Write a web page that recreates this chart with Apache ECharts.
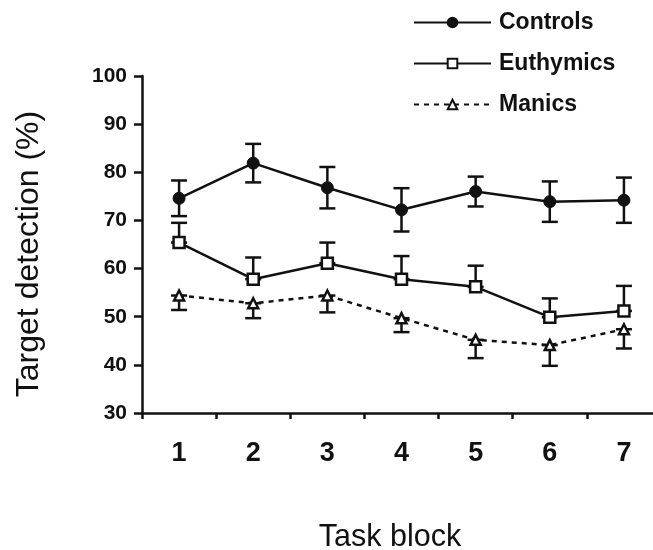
<!DOCTYPE html>
<html>
<head>
<meta charset="utf-8">
<script src="https://cdn.jsdelivr.net/npm/echarts@6/dist/echarts.min.js"></script>
<style>
html,body{margin:0;padding:0;background:#fff;}
#chart{width:653px;height:550px;}
</style>
</head>
<body>
<div id="chart"></div>
<script>
const categories = ['1', '2', '3', '4', '5', '6', '7'];
const controls = [74.6, 81.9, 76.8, 72.2, 76.0, 73.9, 74.2];
const controlsErr = [3.7, 4.0, 4.3, 4.5, 3.1, 4.2, 4.7];
const euthymics = [65.4, 57.8, 61.1, 57.8, 56.2, 49.9, 51.2];
const euthymicsErrUp = [4.1, 4.5, 4.3, 4.8, 4.4, 3.9, 5.2];
const manics = [54.4, 52.8, 54.4, 49.7, 45.2, 44.1, 47.4];
const manicsErrDown = [3.0, 3.1, 3.5, 2.9, 3.8, 4.3, 4.0];
const yTicks = [30, 40, 50, 60, 70, 80, 90, 100];

const chart = echarts.init(document.getElementById('chart'));

function errData(means, lowErr, highErr) {
  return means.map((m, i) => [i, m - lowErr[i], m + highErr[i]]);
}
const zeros = categories.map(() => 0);

function errorBarSeries(name, data) {
  return {
    type: 'custom',
    name: name,
    z: 1,
    silent: true,
    data: data,
    encode: { x: 0, y: [1, 2] },
    renderItem: function (params, api) {
      const x = api.value(0);
      const lo = api.coord([x, api.value(1)]);
      const hi = api.coord([x, api.value(2)]);
      const hw = 8;
      const st = { stroke: '#111', lineWidth: 2.5, fill: null };
      return {
        type: 'group',
        children: [
          { type: 'line', shape: { x1: lo[0], y1: lo[1], x2: hi[0], y2: hi[1] }, style: st },
          { type: 'line', shape: { x1: lo[0] - hw, y1: lo[1], x2: lo[0] + hw, y2: lo[1] }, style: st },
          { type: 'line', shape: { x1: hi[0] - hw, y1: hi[1], x2: hi[0] + hw, y2: hi[1] }, style: st }
        ]
      };
    }
  };
}

const option = {
  animation: false,
  backgroundColor: '#fff',
  textStyle: { fontFamily: 'Liberation Sans' },
  legend: {
    orient: 'vertical',
    left: 408,
    top: 6,
    itemWidth: 77,
    itemHeight: 12,
    itemGap: 18,
    data: ['Controls', 'Euthymics', 'Manics'],
    textStyle: { fontSize: 23, fontWeight: 'bold', color: '#111', fontFamily: 'Liberation Sans', padding: [0, 0, 0, 3] }
  },
  grid: { left: 142, right: -8, top: 76, bottom: 137, containLabel: false, outerBoundsMode: 'none' },
  xAxis: {
    type: 'category',
    data: categories,
    boundaryGap: true,
    name: 'Task block',
    nameLocation: 'middle',
    nameGap: 109,
    nameTextStyle: { fontSize: 30.5, color: '#111', padding: [0, 23, 0, 0] },
    axisLine: { lineStyle: { color: '#111', width: 2.5 } },
    axisTick: { show: true, length: 6, lineStyle: { color: '#111', width: 2.5 } },
    axisLabel: { fontSize: 27, fontWeight: 'bold', color: '#111', margin: 27 },
    splitLine: { show: false }
  },
  yAxis: {
    type: 'value',
    min: yTicks[0],
    max: yTicks[yTicks.length - 1],
    interval: 10,
    name: 'Target detection (%)',
    nameLocation: 'middle',
    nameGap: 97,
    nameRotate: 90,
    nameTextStyle: { fontSize: 32, color: '#111', padding: [0, 19, 0, 0] },
    axisLine: { show: true, lineStyle: { color: '#111', width: 2.5 } },
    axisTick: { show: true, length: 8, lineStyle: { color: '#111', width: 2.5 } },
    axisLabel: { fontSize: 21, fontWeight: 'bold', color: '#111', margin: 15 },
    splitLine: { show: false }
  },
  series: [
    errorBarSeries('ControlsErr', errData(controls, controlsErr, controlsErr)),
    errorBarSeries('EuthymicsErr', errData(euthymics, zeros, euthymicsErrUp)),
    errorBarSeries('ManicsErr', errData(manics, manicsErrDown, zeros)),
    {
      name: 'Controls',
      type: 'line',
      z: 3,
      data: controls,
      symbol: 'circle',
      symbolSize: 12,
      itemStyle: { color: '#111', borderColor: '#111', borderWidth: 1 },
      lineStyle: { color: '#111', width: 2.5 }
    },
    {
      name: 'Euthymics',
      type: 'line',
      z: 3,
      data: euthymics,
      symbol: 'rect',
      symbolSize: 11,
      itemStyle: { color: '#fff', borderColor: '#111', borderWidth: 2.5 },
      lineStyle: { color: '#111', width: 2.5 }
    },
    {
      name: 'Manics',
      type: 'line',
      z: 3,
      data: manics,
      symbol: 'triangle',
      symbolSize: 10,
      itemStyle: { color: '#fff', borderColor: '#111', borderWidth: 2.5 },
      lineStyle: { color: '#111', width: 2.5, type: [5, 5] }
    }
  ]
};
chart.setOption(option);
</script>
</body>
</html>
